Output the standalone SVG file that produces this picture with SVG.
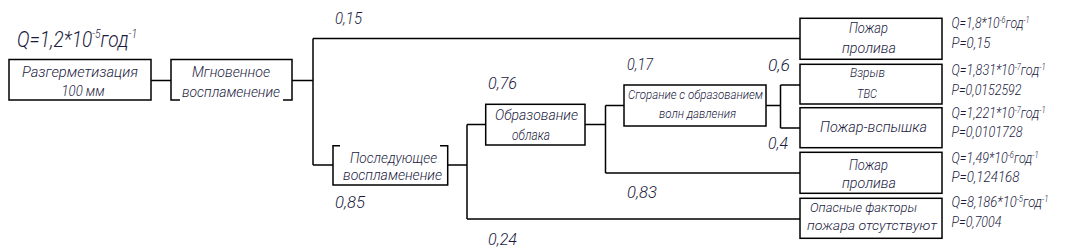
<svg xmlns="http://www.w3.org/2000/svg" width="1081" height="249" viewBox="0 0 1081 249">
<style>
.bx{fill:none;stroke:#000;stroke-width:1.5}
.ln{fill:none;stroke:#000;stroke-width:1.5}
text{font-family:Roboto,"Liberation Sans",Arial,sans-serif;font-style:italic;font-weight:300;fill:#1a1a40}
.lb{font-size:15.5px;text-anchor:middle}
.sm{font-size:13px;text-anchor:middle}
.pr{font-size:16.5px}
.q{font-size:14px}
.sup{font-size:8.5px}
.qt{font-size:22px}
.supb{font-size:12px}
</style>
<rect x="0" y="0" width="1081" height="249" fill="#fff"/>
<g id="connectors">
<path class="ln" d="M151 80.5H171M292 80.5H313M313 38.5V165M313 38.5H800M313 165H333M447.7 165H467M467 124.5V219M467 124.5H485.7M467 219H800M585 124.5H605.5M605.5 105.5V173M605.5 105.5H624M605.5 173H800M766 105.5H780.5M780.5 85V128M780.5 85H800M780.5 128H800"/>
</g>
<g id="q-top">
<text class="qt" x="17" y="47" textLength="120" lengthAdjust="spacingAndGlyphs">Q=1,2*10<tspan class="supb" dy="-9">-5</tspan><tspan dy="9">год</tspan><tspan class="supb" dy="-9">-1</tspan></text>
</g>
<g id="n-razgerm">
<rect class="bx" x="9" y="59.5" width="142" height="40.5"/>
<text class="lb" x="80" y="77" textLength="116" lengthAdjust="spacingAndGlyphs">Разгерметизация</text>
<text class="lb" x="83" y="96" textLength="43" lengthAdjust="spacingAndGlyphs">100 мм</text>
</g>
<g id="n-mgnov">
<path class="bx" d="M180 100H171V59.5H292V100H283"/>
<text class="lb" x="231" y="77" textLength="78" lengthAdjust="spacingAndGlyphs">Мгновенное</text>
<text class="lb" x="231" y="97" textLength="98" lengthAdjust="spacingAndGlyphs">воспламенение</text>
</g>
<g id="n-posled">
<path class="bx" d="M340 145.7H333V185H447.7V145.7H440"/>
<text class="lb" x="393.5" y="163" textLength="87" lengthAdjust="spacingAndGlyphs">Последующее</text>
<text class="lb" x="392.5" y="180" textLength="99" lengthAdjust="spacingAndGlyphs">воспламенение</text>
</g>
<g id="n-oblako">
<rect class="bx" x="485.7" y="104.3" width="99.3" height="40.7"/>
<text class="lb" x="536.5" y="120" textLength="83" lengthAdjust="spacingAndGlyphs">Образование</text>
<text class="lb" x="531" y="140" textLength="38" lengthAdjust="spacingAndGlyphs">облака</text>
</g>
<g id="n-sgoranie">
<rect class="bx" x="624" y="85" width="142" height="41"/>
<text class="sm" x="695.5" y="99" textLength="135" lengthAdjust="spacingAndGlyphs">Сгорание с образованием</text>
<text class="sm" x="697.5" y="118" textLength="77" lengthAdjust="spacingAndGlyphs">волн давления</text>
</g>
<g id="n-pozhar1">
<rect class="bx" x="800" y="18.3" width="142" height="41"/>
<text class="lb" x="868.5" y="33" textLength="39" lengthAdjust="spacingAndGlyphs">Пожар</text>
<text class="lb" x="869" y="52.7" textLength="54" lengthAdjust="spacingAndGlyphs">пролива</text>
</g>
<g id="n-vzryv">
<rect class="bx" x="800" y="64.3" width="142" height="39.7"/>
<text class="sm" x="867.5" y="77" textLength="35" lengthAdjust="spacingAndGlyphs">Взрыв</text>
<text class="sm" x="867" y="98" textLength="20" lengthAdjust="spacingAndGlyphs">ТВС</text>
</g>
<g id="n-vspyshka">
<rect class="bx" x="800" y="107.7" width="142" height="40"/>
<text class="lb" x="873.5" y="132" textLength="107" lengthAdjust="spacingAndGlyphs">Пожар-вспышка</text>
</g>
<g id="n-pozhar2">
<rect class="bx" x="800" y="152.3" width="142" height="41"/>
<text class="lb" x="868.5" y="170" textLength="39" lengthAdjust="spacingAndGlyphs">Пожар</text>
<text class="lb" x="869" y="188" textLength="54" lengthAdjust="spacingAndGlyphs">пролива</text>
</g>
<g id="n-net">
<rect class="bx" x="800" y="198.3" width="142" height="40"/>
<text class="sm" x="863.5" y="212" textLength="107" lengthAdjust="spacingAndGlyphs">Опасные факторы</text>
<text class="sm" x="872" y="230" textLength="130" lengthAdjust="spacingAndGlyphs">пожара отсутствуют</text>
</g>
<g id="probabilities">
<text class="pr" x="335" y="24" textLength="27" lengthAdjust="spacingAndGlyphs">0,15</text>
<text class="pr" x="488" y="89" textLength="29" lengthAdjust="spacingAndGlyphs">0,76</text>
<text class="pr" x="335" y="208" textLength="30" lengthAdjust="spacingAndGlyphs">0,85</text>
<text class="pr" x="488" y="245" textLength="29" lengthAdjust="spacingAndGlyphs">0,24</text>
<text class="pr" x="627" y="70" textLength="26" lengthAdjust="spacingAndGlyphs">0,17</text>
<text class="pr" x="768" y="71" textLength="22" lengthAdjust="spacingAndGlyphs">0,6</text>
<text class="pr" x="768" y="149" textLength="20" lengthAdjust="spacingAndGlyphs">0,4</text>
<text class="pr" x="627" y="198" textLength="30" lengthAdjust="spacingAndGlyphs">0,83</text>
</g>
<g id="results">
<text class="q" x="951.5" y="28.3" textLength="78" lengthAdjust="spacingAndGlyphs">Q=1,8*10<tspan class="sup" dy="-5">-6</tspan><tspan dy="5">год</tspan><tspan class="sup" dy="-5">-1</tspan></text>
<text class="q" x="951.5" y="48.3" textLength="39" lengthAdjust="spacingAndGlyphs">P=0,15</text>
<text class="q" x="951.5" y="75" textLength="94" lengthAdjust="spacingAndGlyphs">Q=1,831*10<tspan class="sup" dy="-5">-7</tspan><tspan dy="5">год</tspan><tspan class="sup" dy="-5">-1</tspan></text>
<text class="q" x="951.5" y="95" textLength="70" lengthAdjust="spacingAndGlyphs">P=0,0152592</text>
<text class="q" x="951.5" y="118" textLength="94" lengthAdjust="spacingAndGlyphs">Q=1,221*10<tspan class="sup" dy="-5">-7</tspan><tspan dy="5">год</tspan><tspan class="sup" dy="-5">-1</tspan></text>
<text class="q" x="951.5" y="137" textLength="71" lengthAdjust="spacingAndGlyphs">P=0,0101728</text>
<text class="q" x="951.5" y="163" textLength="87" lengthAdjust="spacingAndGlyphs">Q=1,49*10<tspan class="sup" dy="-5">-6</tspan><tspan dy="5">год</tspan><tspan class="sup" dy="-5">-1</tspan></text>
<text class="q" x="951.5" y="182" textLength="68" lengthAdjust="spacingAndGlyphs">P=0,124168</text>
<text class="q" x="951.5" y="207" textLength="97" lengthAdjust="spacingAndGlyphs">Q=8,186*10<tspan class="sup" dy="-5">-5</tspan><tspan dy="5">год</tspan><tspan class="sup" dy="-5">-1</tspan></text>
<text class="q" x="951.5" y="227" textLength="50" lengthAdjust="spacingAndGlyphs">P=0,7004</text>
</g>
</svg>
